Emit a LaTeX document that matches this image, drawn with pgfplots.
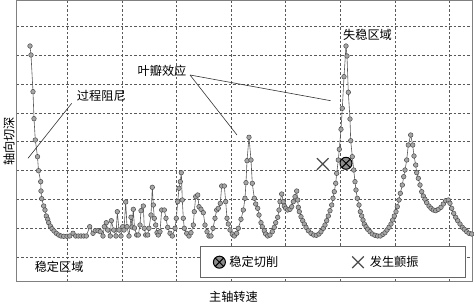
\documentclass[border=0pt]{standalone}
\usepackage{fontspec}
\setmainfont{Noto Sans CJK SC}
\usepackage{pgfplots}
\pgfplotsset{compat=1.18}
\usetikzlibrary{plotmarks}
\newcommand\lbl{\fontsize{12.2}{14}\selectfont}
\begin{document}
\begin{tikzpicture}
\begin{axis}[
  name=ax, at={(0,0)}, anchor=south west,
  scale only axis, width=455pt, height=281pt,
  xmin=17, xmax=472, ymin=0, ymax=281,
  xtick={67.2,121.8,176.4,231,285.6,340.2,394.8,449.4},
  ytick={25,53.8,82.6,111.4,140.2,169,197.8,226.6,255.4},
  xticklabels={}, yticklabels={},
  major tick length=0pt,
  grid=major,
  major grid style={black!65, line width=0.6pt, dash pattern=on 2.5pt off 2pt},
  axis line style={black!50, line width=1pt},
  clip=false,
  xlabel={主轴转速}, ylabel={轴向切深},
  xlabel style={at={(axis description cs:0.4758,-0.0534)}, anchor=center, font=\lbl},
  ylabel style={at={(axis description cs:-0.0176,0.5)}, anchor=center, font=\lbl},
  legend columns=2,
  legend style={at={(axis description cs:0.98681,0.01423)}, anchor=south east,
    draw=black!60, line width=0.8pt, inner xsep=13pt, inner ysep=7.5pt, font=\lbl,
    /tikz/every even column/.append style={column sep=72pt}},
]
\addplot[forget plot, color=black!65, line width=0.6pt, mark=*, mark size=2.3pt,
  mark options={fill=black!35, draw=black!70, line width=0.5pt}] coordinates {
(30,236)(31,227)(33,190.3)(34,163.3)(35.3,142)(37.5,125.3)(38.5,111.3)(40.7,100.3)
(41,91)(41.7,83.3)(43.7,76)(45,72)(46.3,66)(47.7,62.7)(48.7,59.3)(50.3,56)(52,53.3)
(54,51)(56.3,48.7)(58.7,47)(61,46)(63.7,45.7)(67,45.7)(69.7,46)(73,48.7)(75.7,46)
(78.3,46)(81,46)(83.7,46)(86.3,46)(89.7,55.3)(93,48.7)(95.3,51.3)(98,51.3)(100.3,50.3)
(103,46)(104.3,55.3)(106.3,59.3)(107.7,52)(110.3,46)(111.3,61.3)(113.7,52)(116,46)
(117.3,70.3)(119,52)(121,46)(122.7,55.3)(124,52)(125.7,80)(127,55.3)(129,46)
(131,64.7)(132,55)(133.3,72.7)(134.5,54)(136.7,47)(138.3,47)(140,57)(141,71.3)
(143.3,76)(144.3,53.7)(145.7,47)(147.7,47)(149,53.7)(151,67)(152.3,94.7)(153.3,77)
(154.3,63.7)(155.7,57)(157,49.3)(158.3,47)(160,50.3)(161.7,72)(164.3,72)(166,63.7)
(167.7,54.7)(170,48.7)(172.3,46)(175,53.7)(176.3,63.7)(177.7,80.3)(179,93.7)
(180.3,100.3)(181.3,109.3)(182.3,82)(183.3,63.7)(184.3,53.7)(186.7,48.7)(189,46)
(191,49.3)(193.3,57)(194.3,70.3)(195.7,85.3)(197.7,87)(199,75.3)(201,72.7)(203.3,69.3)
(205,57)(207,50.3)(209,46)(211,46)(213,53.7)(215,63.7)(216.7,72)(218.3,73.7)
(220.3,78.7)(221.7,96)(224.3,96)(225.7,80.3)(227,63.7)(228.3,58)(230,52)(232.3,48)
(234.3,46)(236.7,48.7)(238.3,53.7)(241,62.7)(243.3,72)(245,83.7)(246,99.3)(247,121.3)
(249,144.7)(251,122)(252.3,98.7)(254.3,83.7)(255.7,78)(257.7,73.7)(259,67)(261,59.3)
(262.3,55.3)(264.3,51.3)(265.7,48)(267.7,46)(270,47)(272.3,50.3)(274.3,54.7)
(275.7,59.3)(277.7,64.7)(279,72)(280,80.3)(281.7,88)(283.3,80.3)(284.3,76)(285.7,73.7)
(287.7,72)(290,72.7)(291.7,75.3)(293.3,80.3)(295,85.3)(296.7,91)(297.7,82)(298.3,74.7)
(299.3,70.3)(301,65.3)(302.7,61.3)(304.3,58)(306,54.7)(308.3,51.3)(311,48.7)(313.7,47)
(316.3,46.7)(319,48)(321,50.3)(323.3,53.7)(325,57)(326.7,61.3)(328.3,66)(330,71.3)
(331.7,77)(333,83.7)(334.3,90.3)(335.7,98.7)(336.7,108.7)(338.3,122)(339.3,132.7)
(341,152.7)(342.3,173.7)(344,205.3)(346,236)(347,226)(348.3,189.7)(350,163)(350.7,141.3)
(352.3,125.3)(353.7,112)(355,100.3)(356,92)(357.3,83.7)(359,77)(360.3,70.3)(361.7,66)
(363,62)(364.3,58)(366,55.3)(367.7,52.7)(370,50.3)(372.3,48)(375,46.7)(377.7,46)
(380.3,46)(383,47.7)(385,49.3)(387,52)(389,54.7)(391,58)(392.7,62)(394.3,66)(396,70.3)
(397.3,75.3)(399,82)(400.3,88.7)(402.3,97)(403.7,105.3)(405,112)(406.7,122)(408.3,137)
(410.7,147)(412.7,137)(414,126)(415.7,117)(416.7,109.3)(418.3,103.7)(420,97)
(421.7,90.3)(423.3,86)(425,82.7)(426.7,79.3)(429,76)(431,73.7)(433.3,72)(435.7,71.3)
(438.3,72.7)(441,74.7)(443.3,78)(445.7,81.3)(448.3,82)(450,78.7)(451.7,73.7)
(453.7,68.7)(455.7,64.7)(457.7,61.3)(460,58)(462.3,54.7)(464.3,52.7)(466.7,50.3)
(469,48.7)(471.7,48)
};
\addplot[only marks, mark=otimes*, mark size=6pt,
  mark options={fill=black!45, draw=black, line width=1pt}] coordinates {(346,118.7)};
\addlegendentry{\kern2pt 稳定切削}
\addplot[only marks, mark=x, mark size=8.2pt, color=black!70, line width=1.2pt]
  coordinates {(322.7,118)};
\addlegendentry{\kern4pt 发生颤振\rule{32pt}{0pt}}
\node[font=\lbl] at (axis cs:101.3,186.3) {过程阻尼};
\node[font=\lbl] at (axis cs:162,211) {叶瓣效应};
\node[font=\lbl] at (axis cs:367.5,247) {失稳区域};
\node[font=\lbl] at (axis cs:59.2,14.7) {稳定区域};
\draw[black!80, line width=0.6pt] (axis cs:71.7,178.7) -- (axis cs:28,123.7);
\draw[black!80, line width=0.6pt] (axis cs:190,207) -- (axis cs:330.7,181.3);
\draw[black!80, line width=0.6pt] (axis cs:190,207) -- (axis cs:237,147);
\end{axis}
\pgfresetboundingbox
\path ([shift={(-17pt,-22pt)}]ax.south west) rectangle ([shift={(457pt,282pt)}]ax.south west);
\end{tikzpicture}
\end{document}
